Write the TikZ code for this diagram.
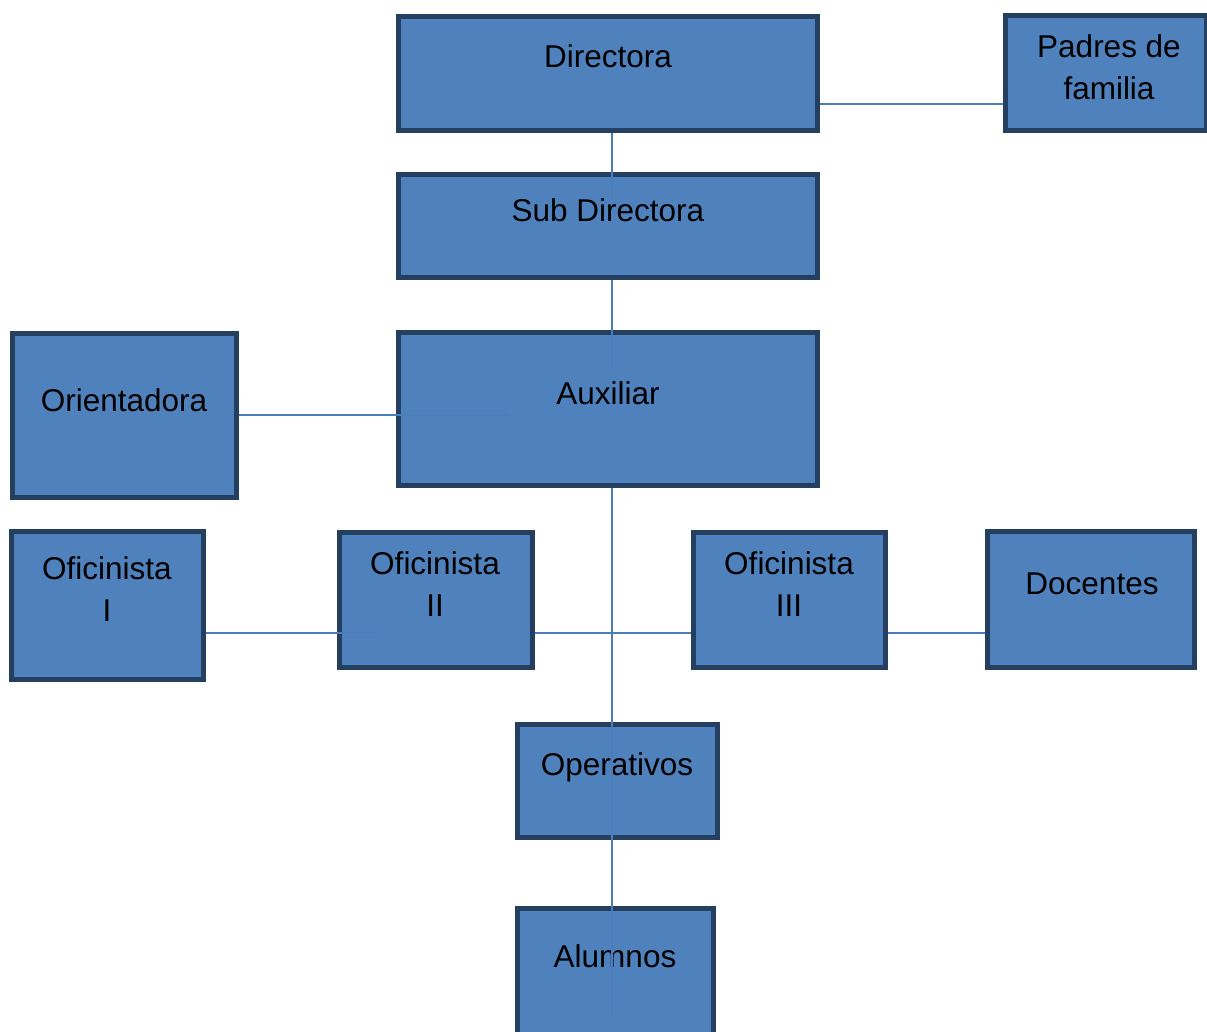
\documentclass[tikz,border=0pt]{standalone}
\usepackage{fontspec}
\setmainfont{Liberation Sans}
\definecolor{boxfill}{HTML}{4F81BD}
\definecolor{boxedge}{HTML}{243F60}
\definecolor{linkcol}{HTML}{4A7EBB}
\begin{document}
\begin{tikzpicture}[x=1pt,y=-1pt,
  orgbox/.style={draw=boxedge, fill=boxfill, line width=5pt, inner sep=0pt, rectangle},
  lbl/.style={anchor=base, inner sep=0pt, align=center, font=\fontsize{31.5}{42}\selectfont},
  link/.style={draw=linkcol, line width=1.6pt}]
\useasboundingbox (0,0) rectangle (1207,1032);
% boxes
\node[orgbox, minimum width=419pt, minimum height=114pt] (dir) at (608,73.5) {};
\node[orgbox, minimum width=201pt, minimum height=115pt] (pad) at (1106,73) {};
\node[orgbox, minimum width=419pt, minimum height=103pt] (sub) at (608,226) {};
\node[orgbox, minimum width=419pt, minimum height=153pt] (aux) at (608,409) {};
\node[orgbox, minimum width=224pt, minimum height=164pt] (ori) at (124.5,415.5) {};
\node[orgbox, minimum width=192pt, minimum height=148pt] (of1) at (107.5,605.5) {};
\node[orgbox, minimum width=193pt, minimum height=135pt] (of2) at (436,600) {};
\node[orgbox, minimum width=192pt, minimum height=135pt] (of3) at (789.5,600) {};
\node[orgbox, minimum width=207pt, minimum height=136pt] (doc) at (1091,599.5) {};
\node[orgbox, minimum width=200pt, minimum height=113pt] (ope) at (617.5,781) {};
\node[orgbox, minimum width=196pt, minimum height=134pt] (alu) at (615.5,975.5) {};
% labels (multi-line labels are anchored at the baseline of their last line)
\node[lbl] (tdir) at (608,68) {Directora};
\node[lbl] (tpad) at (1109,100) {Padres de\\familia};
\node[lbl] (tsub) at (608,222) {Sub Directora};
\node[lbl] (taux) at (608,404) {Auxiliar};
\node[lbl] (tori) at (124,411) {Orientadora};
\node[lbl] (tof1) at (107,621) {Oficinista\\I};
\node[lbl] (tof2) at (435,616) {Oficinista\\II};
\node[lbl] (tof3) at (789,616) {Oficinista\\III};
\node[lbl] (tdoc) at (1092,594) {Docentes};
\node[lbl] (tope) at (617,775) {Operativos};
\node[lbl] (talu) at (615,967) {Alumnos};
% free ends of connectors
\coordinate (c1) at (612,200);
\coordinate (c2) at (612,367);
\coordinate (c3) at (510,415);
\coordinate (c4) at (612,1015);
\coordinate (c5) at (377,633);
\coordinate (c6) at (612,280);
\coordinate (c7) at (612,488);
\coordinate (c8) at (612,133);
% connectors
\draw[link] (c8) -- (c1);
\draw[link] (c6) -- (c2);
\draw[link] (dir.east |- 0,104) -- (pad.west |- 0,104);
\draw[link] (ori.east |- c3) -- (c3);
\draw[link] (c7) -- (c4);
\draw[link] (of2.east |- c5) -- (of3.west |- c5);
\draw[link] (of1.east |- c5) -- (c5);
\draw[link] (of3.east |- c5) -- (doc.west |- c5);
\end{tikzpicture}
\end{document}
